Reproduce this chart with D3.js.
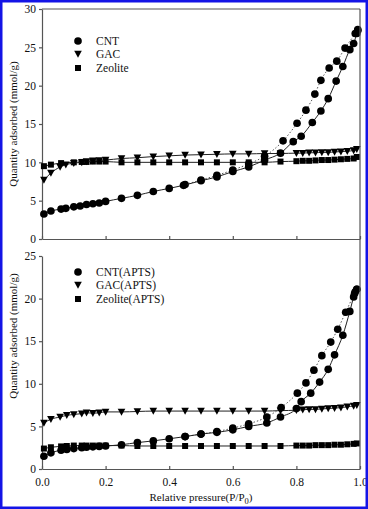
<!DOCTYPE html>
<html>
<head>
<meta charset="utf-8">
<script src="https://cdn.jsdelivr.net/npm/d3@7"></script>
<style>
  body { margin: 0; background: #fff; }
  svg text { font-family: "Liberation Serif", "Times New Roman", "DejaVu Serif", serif; fill: #111; }
</style>
</head>
<body>
<div id="chart"></div>
<script>
// Data
// ==============================
// Top panel: raw adsorbents
var cntAdsP = [0.006, 0.028, 0.06, 0.075, 0.1, 0.12, 0.14, 0.16, 0.18, 0.2, 0.25, 0.3, 0.35, 0.4, 0.445, 0.5, 0.55, 0.6, 0.65, 0.7, 0.75, 0.79, 0.815, 0.85, 0.877, 0.9, 0.925, 0.946, 0.968, 0.98, 0.99, 0.993];
var cntAdsV = [3.26, 3.65, 3.9, 4.0, 4.2, 4.3, 4.5, 4.6, 4.7, 4.9, 5.3, 5.7, 6.2, 6.6, 7.0, 7.6, 8.1, 8.8, 9.4, 10.3, 11.2, 12.7, 13.4, 15.2, 16.7, 18.3, 20.6, 22.5, 24.7, 25.5, 26.8, 27.2];
var cntDesP = [0.45, 0.5, 0.55, 0.6, 0.65, 0.7, 0.758, 0.802, 0.83, 0.858, 0.877, 0.903, 0.927, 0.953, 0.985, 0.993];
var cntDesV = [7.1, 7.7, 8.3, 9.0, 9.8, 10.8, 12.8, 15.1, 16.8, 18.9, 20.7, 22.3, 23.2, 24.9, 26.8, 27.3];

var gacP = [0.006, 0.028, 0.057, 0.075, 0.1, 0.125, 0.14, 0.16, 0.18, 0.2, 0.25, 0.3, 0.35, 0.4, 0.45, 0.5, 0.55, 0.6, 0.65, 0.7, 0.75, 0.8, 0.82, 0.84, 0.86, 0.88, 0.9, 0.92, 0.94, 0.96, 0.98, 0.99];
var gacV = [7.7, 8.6, 9.4, 9.7, 9.9, 10.0, 10.1, 10.2, 10.25, 10.3, 10.5, 10.6, 10.75, 10.85, 10.95, 11.0, 11.05, 11.1, 11.1, 11.15, 11.15, 11.2, 11.2, 11.25, 11.25, 11.3, 11.3, 11.35, 11.4, 11.45, 11.55, 11.7];

var zeoP = [0.006, 0.028, 0.06, 0.1, 0.125, 0.14, 0.16, 0.18, 0.2, 0.25, 0.3, 0.35, 0.4, 0.45, 0.5, 0.55, 0.6, 0.65, 0.7, 0.75, 0.8, 0.82, 0.84, 0.86, 0.88, 0.9, 0.92, 0.94, 0.96, 0.98, 0.99];
var zeoV = [9.5, 9.7, 9.9, 10.0, 10.05, 10.05, 10.1, 10.1, 10.1, 10.0, 10.0, 10.0, 10.0, 10.0, 10.0, 10.0, 10.0, 10.0, 10.0, 10.1, 10.15, 10.2, 10.2, 10.25, 10.3, 10.3, 10.35, 10.4, 10.45, 10.5, 10.7];

// Bottom panel: APTS modified adsorbents
var cntApAdsP = [0.006, 0.028, 0.06, 0.078, 0.1, 0.125, 0.14, 0.16, 0.18, 0.2, 0.25, 0.3, 0.35, 0.4, 0.45, 0.5, 0.55, 0.6, 0.65, 0.707, 0.75, 0.8, 0.815, 0.845, 0.873, 0.9, 0.92, 0.946, 0.968, 0.98, 0.985, 0.99];
var cntApAdsV = [1.5, 1.9, 2.2, 2.3, 2.4, 2.5, 2.55, 2.6, 2.65, 2.7, 2.85, 3.1, 3.3, 3.55, 3.8, 4.1, 4.3, 4.6, 5.0, 5.4, 6.1, 7.1, 7.9, 8.9, 10.2, 11.7, 13.4, 15.7, 18.5, 20.2, 20.8, 21.1];
var cntApDesP = [0.45, 0.5, 0.55, 0.6, 0.65, 0.707, 0.752, 0.803, 0.83, 0.855, 0.88, 0.908, 0.93, 0.955, 0.983, 0.99];
var cntApDesV = [3.8, 4.1, 4.4, 4.8, 5.3, 6.1, 7.2, 8.9, 10.1, 11.6, 13.3, 14.9, 16.4, 18.4, 20.6, 21.1];

var gacApP = [0.006, 0.028, 0.057, 0.078, 0.1, 0.125, 0.14, 0.16, 0.18, 0.2, 0.25, 0.3, 0.35, 0.4, 0.45, 0.5, 0.55, 0.6, 0.65, 0.7, 0.75, 0.8, 0.82, 0.84, 0.86, 0.88, 0.9, 0.92, 0.94, 0.96, 0.98, 0.99];
var gacApV = [5.4, 5.85, 6.1, 6.3, 6.4, 6.5, 6.6, 6.55, 6.6, 6.7, 6.7, 6.75, 6.8, 6.8, 6.8, 6.8, 6.8, 6.8, 6.8, 6.8, 6.85, 6.9, 6.95, 7.0, 7.0, 7.05, 7.1, 7.15, 7.2, 7.3, 7.4, 7.5];

var zeoApP = [0.006, 0.028, 0.06, 0.078, 0.1, 0.125, 0.14, 0.16, 0.18, 0.2, 0.25, 0.3, 0.35, 0.4, 0.45, 0.5, 0.55, 0.6, 0.65, 0.7, 0.75, 0.8, 0.82, 0.84, 0.86, 0.88, 0.9, 0.92, 0.94, 0.96, 0.98, 0.99];
var zeoApV = [2.4, 2.55, 2.65, 2.7, 2.75, 2.75, 2.75, 2.75, 2.75, 2.75, 2.75, 2.7, 2.7, 2.7, 2.7, 2.7, 2.7, 2.7, 2.7, 2.7, 2.7, 2.75, 2.75, 2.75, 2.8, 2.8, 2.8, 2.85, 2.85, 2.9, 2.95, 3.0];

var xTicks = [0.0, 0.2, 0.4, 0.6, 0.8, 1.0];
var topYTicks = [0, 5, 10, 15, 20, 25, 30];
var botYTicks = [0, 5, 10, 15, 20, 25];
var topLegend = ["CNT", "GAC", "Zeolite"];
var botLegend = ["CNT(APTS)", "GAC(APTS)", "Zeolite(APTS)"];

function zip(p, v) { return p.map(function(d, i) { return {p: d, v: v[i]}; }); }

// SVG area
// ==============================
var svgWidth = 368, svgHeight = 509;
var left = 42, right = 360;
var serif = "Liberation Serif, Times New Roman, serif";

var svg = d3.select("#chart").append("svg")
  .attr("width", svgWidth)
  .attr("height", svgHeight)
  .attr("font-family", serif);

var xScale = d3.scaleLinear().domain([0, 1]).range([left, right]);
var yTop = d3.scaleLinear().domain([0, 30]).range([239, 9]);
var yBot = d3.scaleLinear().domain([0, 25]).range([469, 256]);

var symbols = [d3.symbolCircle, "tri", d3.symbolSquare];

function marker(g, kind, x, y) {
  if (kind === "tri") {
    g.append("path")
      .attr("d", "M" + (x - 3.8) + "," + (y - 3.2) + "L" + (x + 3.8) + "," + (y - 3.2) + "L" + x + "," + (y + 3.8) + "Z")
      .attr("fill", "#000");
  } else {
    g.append("path")
      .attr("transform", "translate(" + x + "," + y + ")")
      .attr("d", d3.symbol().type(kind).size(kind === d3.symbolCircle ? 46 : 36)())
      .attr("fill", "#000");
  }
}

function drawSeries(g, yScale, data, kind, dashed) {
  var line = d3.line()
    .x(function(d) { return xScale(d.p); })
    .y(function(d) { return yScale(d.v); })
    .curve(d3.curveMonotoneX);
  g.append("path")
    .datum(data)
    .attr("fill", "none")
    .attr("stroke", dashed ? "#555" : "#222")
    .attr("stroke-width", 1)
    .attr("stroke-dasharray", dashed ? "1.5,2" : null)
    .attr("d", line);
  data.forEach(function(d) { marker(g, kind, xScale(d.p), yScale(d.v)); });
}

function drawPanel(yScale, yTicks, showXLabels) {
  var g = svg.append("g");

  // x axis (ticks pointing up)
  var xAxis = d3.axisBottom(xScale)
    .tickValues(xTicks)
    .tickSizeInner(-3)
    .tickSizeOuter(0)
    .tickPadding(8)
    .tickFormat(showXLabels ? d3.format(".1f") : "");
  var gx = g.append("g")
    .attr("transform", "translate(0," + yScale(0) + ")")
    .call(xAxis)
    .attr("font-family", serif);
  gx.selectAll("text").attr("font-size", "11.5px").attr("dy", "0.75em");

  var yAxis = d3.axisLeft(yScale)
    .tickValues(yTicks)
    .tickSizeInner(3)
    .tickSizeOuter(0)
    .tickPadding(3);
  var gy = g.append("g")
    .attr("transform", "translate(" + left + ",0)")
    .call(yAxis)
    .attr("font-family", serif);
  gy.selectAll("text").attr("font-size", "11.5px");

  g.selectAll(".domain, .tick line").attr("stroke", "#555").attr("stroke-width", 1.2);

  return g;
}

var topG = drawPanel(yTop, topYTicks, false);
var botG = drawPanel(yBot, botYTicks, true);

// frame: top edge and right edge
svg.append("line").attr("x1", left).attr("x2", right).attr("y1", 9).attr("y2", 9)
  .attr("stroke", "#555").attr("stroke-width", 1.2);
svg.append("line").attr("x1", right).attr("x2", right).attr("y1", 9).attr("y2", 469)
  .attr("stroke", "#555").attr("stroke-width", 1.2);

// Series
// ==============================
drawSeries(topG, yTop, zip(zeoP, zeoV), d3.symbolSquare, false);
drawSeries(topG, yTop, zip(gacP, gacV), "tri", false);
drawSeries(topG, yTop, zip(cntDesP, cntDesV), d3.symbolCircle, true);
drawSeries(topG, yTop, zip(cntAdsP, cntAdsV), d3.symbolCircle, false);

drawSeries(botG, yBot, zip(zeoApP, zeoApV), d3.symbolSquare, false);
drawSeries(botG, yBot, zip(gacApP, gacApV), "tri", false);
drawSeries(botG, yBot, zip(cntApDesP, cntApDesV), d3.symbolCircle, true);
drawSeries(botG, yBot, zip(cntApAdsP, cntApAdsV), d3.symbolCircle, false);

// Legends
// ==============================
function legend(names, rows) {
  names.forEach(function(name, i) {
    marker(svg, symbols[i], 78, rows[i]);
    svg.append("text")
      .attr("x", 96)
      .attr("y", rows[i])
      .attr("dy", "0.35em")
      .attr("font-size", "11.5px")
      .text(name);
  });
}
legend(topLegend, [41, 54, 68]);
legend(botLegend, [272, 285, 299]);

// Axis titles
// ==============================
svg.append("text")
  .attr("transform", "translate(17," + 124 + ") rotate(-90)")
  .attr("text-anchor", "middle")
  .attr("font-size", "11px")
  .text("Quantity adsorbed (mmol/g)");

svg.append("text")
  .attr("transform", "translate(17," + 336 + ") rotate(-90)")
  .attr("text-anchor", "middle")
  .attr("font-size", "11px")
  .text("Quantity adsorbed (mmol/g)");

var xt = svg.append("text")
  .attr("x", 201)
  .attr("y", 501)
  .attr("text-anchor", "middle")
  .attr("font-size", "11px");
xt.append("tspan").text("Relative pressure(P/P");
xt.append("tspan").attr("font-size", "8.5px").attr("dy", "3").text("0");
xt.append("tspan").attr("dy", "-3").text(")");

// blue outer frame
svg.append("rect")
  .attr("x", 1.25).attr("y", 1.25)
  .attr("width", svgWidth - 2.5).attr("height", svgHeight - 2.5)
  .attr("fill", "none")
  .attr("stroke", "#1414e6")
  .attr("stroke-width", 2.5);
</script>
</body>
</html>
